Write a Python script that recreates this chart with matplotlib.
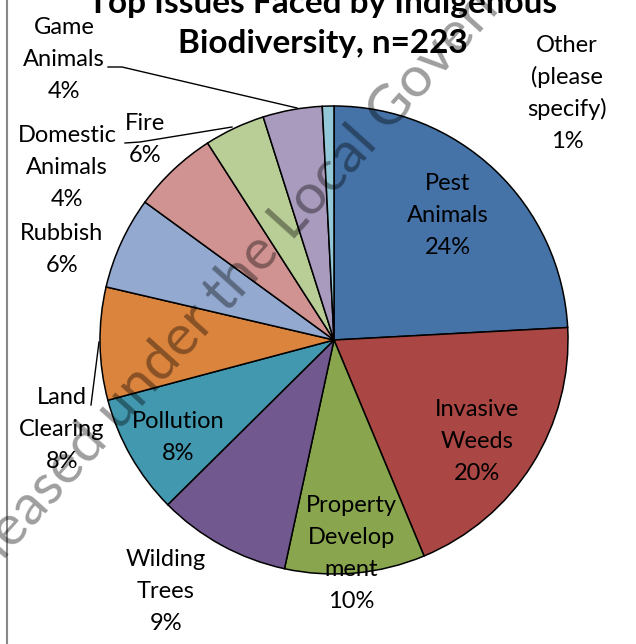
import numpy as np
import matplotlib.pyplot as plt

# ---------------------------------------------------------------------------
# Survey data: share of responses per issue (n=223)
# ---------------------------------------------------------------------------
CATEGORIES = [
    "Pest\nAnimals", "Invasive\nWeeds", "Property\nDevelop\nment",
    "Wilding\nTrees", "Pollution", "Land\nClearing", "Rubbish", "Fire",
    "Domestic\nAnimals", "Game\nAnimals", "Other\n(please\nspecify)",
]
SHARES = [24.2, 19.6, 9.7, 9.2, 8.3, 7.8, 6.4, 5.9, 4.2, 4.1, 0.8]
TITLE = "Top Issues Faced by Indigenous\nBiodiversity, n=223"
STAMP_HEAD = "Released under"
STAMP_TAIL = "the Local Government Official Information and Meetings Act 1987"

# ---------------------------------------------------------------------------
# Layout (pixel coordinates, y measured from the top edge)
# ---------------------------------------------------------------------------
W, H = 636, 644
CENTER = (334, 340)
RADIUS = 234
COLORS = ["#4572A7", "#AA4643", "#89A54E", "#71588F", "#4198AF", "#DB843D",
          "#93A9CF", "#D19392", "#B9CD96", "#A99BBD", "#92C8D8"]
LABEL_POS = [(448, 183), (477, 410), (351, 506), (166, 560), (178, 422),
             (62, 398), (62, 233), (145, 123), (67, 135), (64, 27), (567, 45)]
LEADERS = {
    "Game\nAnimals": [(108, 67), (122, 67), (297, 108)],
    "Fire": [(125, 143), (140, 142), (232, 127)],
    "Land\nClearing": [(91, 405), (99, 342)],
}
LINE_STEP = 32
FONT = "Lato"


def Y(y):
    """Flip a top-down pixel row into axis coordinates."""
    return H - y


fig = plt.figure(figsize=(W / 100, H / 100), dpi=100)
ax = fig.add_axes([0, 0, 1, 1])

ax.pie(SHARES, colors=COLORS, startangle=90, counterclock=False,
       center=(CENTER[0], Y(CENTER[1])), radius=RADIUS,
       wedgeprops=dict(edgecolor="black", linewidth=1.1))

# slice labels, one text per line
for name, share, (x, y) in zip(CATEGORIES, SHARES, LABEL_POS):
    lines = name.split("\n") + [f"{round(share)}%"]
    for i, line in enumerate(lines):
        ax.text(x, Y(y + i * LINE_STEP), line, ha="center", va="center",
                fontsize=17, family=FONT, color="black")

for pts in LEADERS.values():
    xs = [p[0] for p in pts]
    ys = [Y(p[1]) for p in pts]
    ax.plot(xs, ys, color="black", linewidth=1.0)

# title (top line runs off the edge)
for i, line in enumerate(TITLE.split("\n")):
    ax.text(323, Y(3 + i * 40), line, ha="center", va="center",
            fontsize=24, fontweight="bold", family=FONT)

# release stamp across the chart
ang = 48
anchor = (226, 314)
d = np.array([np.cos(np.radians(ang)), np.sin(np.radians(ang))])
gap = 13
ax.text(anchor[0], Y(anchor[1]), STAMP_TAIL, rotation=ang,
        rotation_mode="anchor", ha="left", va="baseline", fontsize=41,
        family=FONT, color="black", alpha=0.38)
ax.text(anchor[0] - gap * d[0], Y(anchor[1]) - gap * d[1], STAMP_HEAD,
        rotation=ang, rotation_mode="anchor", ha="right", va="baseline",
        fontsize=41, family=FONT, color="black", alpha=0.38)

# chart frame, only its left edge shows
ax.plot([7, 7], [0, H], color="#888888", linewidth=1.5)

ax.set_xlim(0, W)
ax.set_ylim(0, H)
ax.set_aspect("equal")
ax.axis("off")

fig.savefig("out.png", dpi=100)
